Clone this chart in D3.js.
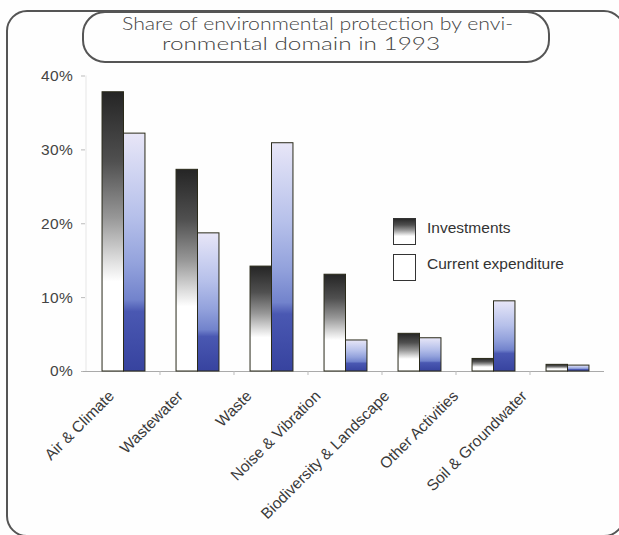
<!DOCTYPE html>
<html>
<head>
<meta charset="utf-8">
<script src="https://cdn.jsdelivr.net/npm/d3@7"></script>
<style>
  body { margin: 0; background: #fefefe; }
  text { font-family: "Liberation Sans", Arial, sans-serif; fill: #333; }
  text.title { font-family: Lato, "DejaVu Sans", sans-serif; font-weight: 300; font-size: 17px; fill: #444; }
</style>
</head>
<body>
<div id="chart"></div>
<script>
// domains and values (percent)
const categories = ["Air & Climate", "Wastewater", "Waste", "Noise & Vibration",
  "Biodiversity & Landscape", "Other Activities", "Soil & Groundwater"];
const investments = [37.8, 27.3, 14.2, 13.1, 5.1, 1.7, 0.9];
const currentExp = [32.2, 18.7, 30.9, 4.2, 4.5, 9.5, 0.8];
const seriesNames = ["Investments", "Current expenditure"];
const yTicks = [0, 10, 20, 30, 40];
const titleLines = ["Share of environmental protection by envi-", "ronmental domain in 1993"];

const width = 619, height = 535;
const marginLeft = 86, marginRight = 15, marginTop = 75, baseY = 371;

const rows = categories.map((c, i) => ({ cat: c, values: [investments[i], currentExp[i]] }));

const svg = d3.select("#chart").append("svg")
    .attr("width", width)
    .attr("height", height);

const defs = svg.append("defs");
// per-bar gradients
const gradInv = defs.append("linearGradient").attr("id", "gInv")
    .attr("x1", 0).attr("y1", 0).attr("x2", 0).attr("y2", 1);
[[0, "#252525"], [0.25, "#505050"], [0.45, "#979797"], [0.6, "#dcdcdc"], [0.68, "#ffffff"], [1, "#ffffff"]]
  .forEach(s => gradInv.append("stop").attr("offset", s[0]).attr("stop-color", s[1]));
const gradCur = defs.append("linearGradient").attr("id", "gCur")
    .attr("x1", 0).attr("y1", 0).attr("x2", 0).attr("y2", 1);
[[0, "#e8e6f7"], [0.15, "#d2d6f2"], [0.35, "#b6c0ea"], [0.55, "#93a2dc"], [0.7, "#7283cc"], [0.75, "#4a58b2"], [1, "#37439f"]]
  .forEach(s => gradCur.append("stop").attr("offset", s[0]).attr("stop-color", s[1]));

// outer frame (cropped at right and bottom like the picture)
svg.append("rect")
    .attr("x", 7).attr("y", 11)
    .attr("width", 617).attr("height", 525)
    .attr("rx", 20)
    .attr("fill", "none")
    .attr("stroke", "#555")
    .attr("stroke-width", 2);

// title box
svg.append("rect")
    .attr("x", 83).attr("y", 12)
    .attr("width", 466).attr("height", 50)
    .attr("rx", 22)
    .attr("fill", "#fefefe")
    .attr("stroke", "#555")
    .attr("stroke-width", 2);

svg.append("text")
    .attr("class", "title")
    .attr("x", 122).attr("y", 30)
    .attr("textLength", 391).attr("lengthAdjust", "spacingAndGlyphs")
    .text(titleLines[0]);
svg.append("text")
    .attr("class", "title")
    .attr("x", 162).attr("y", 50)
    .attr("textLength", 278).attr("lengthAdjust", "spacingAndGlyphs")
    .text(titleLines[1]);

// scales
const x = d3.scaleBand()
    .domain(categories)
    .range([marginLeft, width - marginRight])
    .paddingInner(0.42)
    .paddingOuter(0.21);

const xs = d3.scaleBand()
    .domain([0, 1])
    .range([0, x.bandwidth()]);

const y = d3.scaleLinear()
    .domain([0, 40])
    .range([baseY, marginTop + 0.5]);

// y axis
svg.append("g")
    .attr("transform", `translate(${marginLeft - 1},0)`)
    .call(d3.axisLeft(y).tickValues(yTicks).tickFormat(d => d + "%").tickSize(4).tickPadding(8))
    .call(g => g.select(".domain").attr("stroke", "#e6e6e6").attr("d", `M1,${y(40)}V${baseY}`))
    .call(g => g.selectAll(".tick line").attr("stroke", "#bbb"))
    .call(g => g.selectAll(".tick text")
        .style("font-size", "15.5px")
        .style("fill", "#444")
        .attr("letter-spacing", "0.3"));

// x axis: baseline and small ticks between groups
const xAxis = svg.append("g");
xAxis.append("line")
    .attr("x1", marginLeft - 3).attr("x2", width - marginRight)
    .attr("y1", baseY + 0.5).attr("y2", baseY + 0.5)
    .attr("stroke", "#aaa");
xAxis.selectAll(".sep")
  .data(categories.slice(1))
  .join("line")
    .attr("x1", d => x(d) - x.step() * x.paddingInner() / 2)
    .attr("x2", d => x(d) - x.step() * x.paddingInner() / 2)
    .attr("y1", baseY).attr("y2", baseY + 4)
    .attr("stroke", "#bbb");

// bars
const groups = svg.append("g")
  .selectAll("g")
  .data(rows)
  .join("g")
    .attr("transform", d => `translate(${x(d.cat)},0)`);

groups.selectAll("rect")
  .data(d => d.values.map((v, k) => ({ v, k })))
  .join("rect")
    .attr("x", d => xs(d.k) + 0.5)
    .attr("y", d => y(d.v))
    .attr("width", xs.bandwidth())
    .attr("height", d => baseY - y(d.v))
    .attr("fill", d => d.k === 0 ? "url(#gInv)" : "url(#gCur)")
    .attr("stroke", "#2a2a1a")
    .attr("stroke-width", 1);

// category labels, rotated
const labelX = d3.scalePoint()
    .domain(categories)
    .range([115, 528]);

svg.append("g")
  .selectAll("text")
  .data(categories)
  .join("text")
    .attr("transform", d => `translate(${labelX(d)},397) rotate(-45)`)
    .attr("text-anchor", "end")
    .style("font-size", "15.5px")
    .style("fill", "#3a3a3a")
    .text(d => d);

// legend
const legend = svg.append("g")
    .attr("transform", "translate(393,218)");
const legendItem = legend.selectAll("g")
  .data(seriesNames)
  .join("g")
    .attr("transform", (d, i) => `translate(0,${i * 36})`);
legendItem.append("rect")
    .attr("x", 0.5).attr("y", 0.5)
    .attr("width", 22).attr("height", 26)
    .attr("fill", (d, i) => i === 0 ? "url(#gInv)" : "#fff")
    .attr("stroke", "#333");
legendItem.append("text")
    .attr("x", 34).attr("y", 15)
    .style("font-size", "15.5px")
    .style("fill", "#333")
    .text(d => d);
</script>
</body>
</html>
